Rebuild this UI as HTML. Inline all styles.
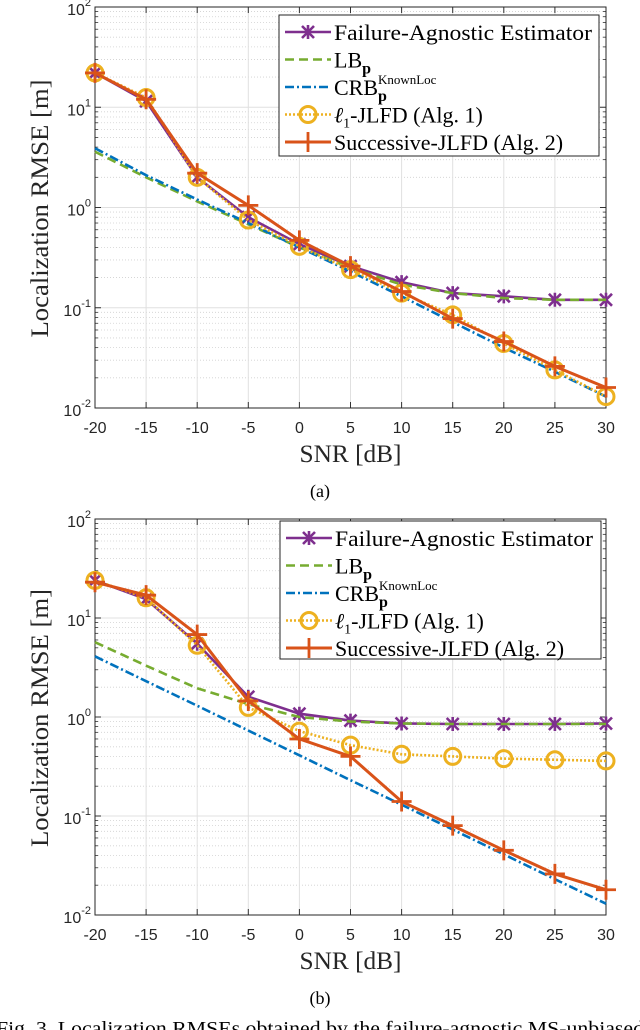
<!DOCTYPE html>
<html><head><meta charset="utf-8"><style>
html,body{margin:0;padding:0;background:#fff;overflow:hidden}
svg{display:block}
</style></head><body>
<svg id="s" width="640" height="1030" xmlns="http://www.w3.org/2000/svg" font-family="Liberation Serif, serif"></svg>
<script>
const snr=[-20,-15,-10,-5,0,5,10,15,20,25,30];
const xTicks=[-20,-15,-10,-5,0,5,10,15,20,25,30];
const yExps=[-2,-1,0,1,2];
const aFA=[22,11.5,2.0,0.8,0.43,0.26,0.18,0.14,0.13,0.12,0.12];
const aLB=[3.6,2.0,1.15,0.68,0.40,0.25,0.17,0.14,0.125,0.12,0.12];
const aCRB=[3.9,2.1,1.2,0.7,0.40,0.23,0.13,0.072,0.04,0.023,0.013];
const aL1=[22,12.5,2.0,0.75,0.41,0.24,0.14,0.085,0.044,0.024,0.013];
const aSU=[22,12,2.2,1.05,0.47,0.26,0.145,0.078,0.046,0.026,0.016];
const bFA=[24,15.5,5.5,1.6,1.08,0.92,0.86,0.85,0.85,0.85,0.86];
const bLB=[5.7,3.3,1.95,1.35,1.0,0.9,0.86,0.85,0.85,0.85,0.85];
const bCRB=[4.1,2.3,1.3,0.73,0.41,0.23,0.13,0.073,0.041,0.023,0.013];
const bL1=[24,16,5.3,1.25,0.72,0.52,0.42,0.40,0.38,0.37,0.36];
const bSU=[23,17,6.8,1.45,0.6,0.4,0.14,0.08,0.045,0.026,0.018];

const NS="http://www.w3.org/2000/svg";
const svg=document.getElementById('s');
function mk(tag,attrs,parent){const e=document.createElementNS(NS,tag);for(const k in attrs)e.setAttribute(k,attrs[k]);(parent||svg).appendChild(e);return e;}
const C={fa:'#7E2F8E',lb:'#77AC30',crb:'#0072BD',l1:'#EDB120',su:'#D95319'};

function plot(id,L,R,T,B,series,leg,capY,cap){
  const g=mk('g',{});
  
  
  const xs=v=>L+(v-(-20))/50*(R-L);
  const ys=v=>B-(Math.log10(v)+2)/4*(B-T);
  for(let e=-2;e<2;e++)for(let m=2;m<10;m++){const y=ys(m*Math.pow(10,e));
    const l=mk('line',{x1:L,x2:R,y1:y,y2:y,stroke:'#d0d0d0','stroke-width':0.8,'stroke-dasharray':'1,2'},g);
    
    mk('line',{x1:L,x2:L+3,y1:y,y2:y,stroke:'#333','stroke-width':0.8},g);
    mk('line',{x1:R,x2:R-3,y1:y,y2:y,stroke:'#333','stroke-width':0.8},g);}
  yExps.forEach(e=>{const y=ys(Math.pow(10,e));
    const l=mk('line',{x1:L,x2:R,y1:y,y2:y,stroke:'#e0e0e0','stroke-width':1},g);
    
    mk('line',{x1:L,x2:L+6,y1:y,y2:y,stroke:'#333','stroke-width':1},g);
    mk('line',{x1:R,x2:R-6,y1:y,y2:y,stroke:'#333','stroke-width':1},g);
    const t=mk('text',{x:L-4,y:y+8,'text-anchor':'end','font-family':'Liberation Sans, sans-serif','font-size':16,fill:'#262626'},g);
    
    t.innerHTML='10<tspan font-size="11" dy="-9">'+e+'</tspan>';});
  xTicks.forEach(v=>{const x=xs(v);
    mk('line',{x1:x,x2:x,y1:T,y2:B,stroke:'#e0e0e0','stroke-width':1},g);
    mk('line',{x1:x,x2:x,y1:B,y2:B-6,stroke:'#333','stroke-width':1},g);
    mk('line',{x1:x,x2:x,y1:T,y2:T+6,stroke:'#333','stroke-width':1},g);
    const t=mk('text',{x:x,y:B+25,'text-anchor':'middle','font-family':'Liberation Sans, sans-serif','font-size':16,fill:'#262626'},g);
    
    t.textContent=v;});
  const ax=mk('rect',{x:L,y:T,width:R-L,height:B-T,fill:'none',stroke:'#262626','stroke-width':1},g);
  
  const xl=mk('text',{x:(L+R)/2,y:B+54,'text-anchor':'middle','font-size':25,fill:'#262626',textLength:102,lengthAdjust:'spacingAndGlyphs'},g);
  
  xl.textContent='SNR [dB]';
  const yl=mk('text',{x:0,y:0,'text-anchor':'middle','font-size':25,fill:'#262626',textLength:258,lengthAdjust:'spacingAndGlyphs',transform:`translate(48,${(T+B)/2+1}) rotate(-90)`},g);
  
  yl.textContent='Localization RMSE [m]';
  function marker(k,x,y,gg){
    if(k==='x'){mk('path',{d:`M${x-6},${y-6}L${x+6},${y+6}M${x-6},${y+6}L${x+6},${y-6}M${x},${y-7}L${x},${y+7}`,stroke:C.fa,'stroke-width':2.6,fill:'none'},gg);}
    else if(k==='o'){mk('circle',{cx:x,cy:y,r:8,stroke:C.l1,'stroke-width':3,fill:'none'},gg);}
    else if(k==='+'){mk('path',{d:`M${x-10},${y}L${x+10},${y}M${x},${y-10}L${x},${y+10}`,stroke:C.su,'stroke-width':2.8},gg);}
  }
  series.forEach(s=>{
    const sg=mk('g',{},g);
    
    const pts=snr.map((v,i)=>xs(v)+','+ys(s.data[i])).join(' ');
    mk('polyline',{points:pts,fill:'none',stroke:s.c,'stroke-width':s.w,'stroke-dasharray':s.dash||'none'},sg);
    if(s.m)snr.forEach((v,i)=>marker(s.m,xs(v),ys(s.data[i]),sg));
  });
  const lg=mk('g',{},g);
  
  mk('rect',{x:leg.x,y:leg.y,width:leg.w,height:leg.h,fill:'#fff',stroke:'#262626','stroke-width':1},lg);
  const labels=['Failure-Agnostic Estimator','LB<tspan font-weight="bold" font-size="16" dy="6">p</tspan>','CRB<tspan font-weight="bold" font-size="16" dy="6">p</tspan><tspan font-size="13" dx="-9" dy="-17">KnownLoc</tspan>','<tspan font-style="italic">ℓ</tspan><tspan font-size="14" dy="5">1</tspan><tspan dy="-5">-JLFD (Alg. 1)</tspan>','Successive-JLFD (Alg. 2)'];
  series.forEach((s,i)=>{
    const y=leg.y+17+i*27.5;
    const eg=mk('g',{},lg);
    
    mk('line',{x1:leg.x+6,x2:leg.x+52,y1:y,y2:y,stroke:s.c,'stroke-width':s.w,'stroke-dasharray':s.dash||'none'},eg);
    if(s.m)marker(s.m,leg.x+29,y,eg);
    const t=mk('text',{x:leg.x+55,y:y+8,'font-size':22,fill:'#000'},eg);
    t.innerHTML=labels[i];
    if(i===0){t.setAttribute('textLength','258');t.setAttribute('lengthAdjust','spacingAndGlyphs');}
  });
  const c=mk('text',{x:320,y:capY,'text-anchor':'middle','font-size':18,fill:'#000'},g);
  
  c.textContent=cap;
}
function ser(fa,lb,crb,l1,su){return[
 {name:'series-failure-agnostic',data:fa,c:C.fa,w:2.6,m:'x'},
 {name:'series-lb',data:lb,c:C.lb,w:2.6,dash:'9,5'},
 {name:'series-crb',data:crb,c:C.crb,w:2.6,dash:'9,3,2,3'},
 {name:'series-l1-jlfd',data:l1,c:C.l1,w:2.6,dash:'2,2',m:'o'},
 {name:'series-successive-jlfd',data:su,c:C.su,w:3,m:'+'}];}
plot('a',95,606,7,408,ser(aFA,aLB,aCRB,aL1,aSU),{x:279,y:15,w:320,h:141},497,'(a)');
plot('b',95,606,519,915,ser(bFA,bLB,bCRB,bL1,bSU),{x:280,y:521,w:321,h:138},1004,'(b)');
const cap=mk('text',{x:-4,y:1035,'font-size':20,fill:'#000',textLength:648,lengthAdjust:'spacingAndGlyphs'});


cap.textContent='Fig. 3.  Localization RMSEs obtained by the failure-agnostic MS-unbiased';
</script>
</body></html>
